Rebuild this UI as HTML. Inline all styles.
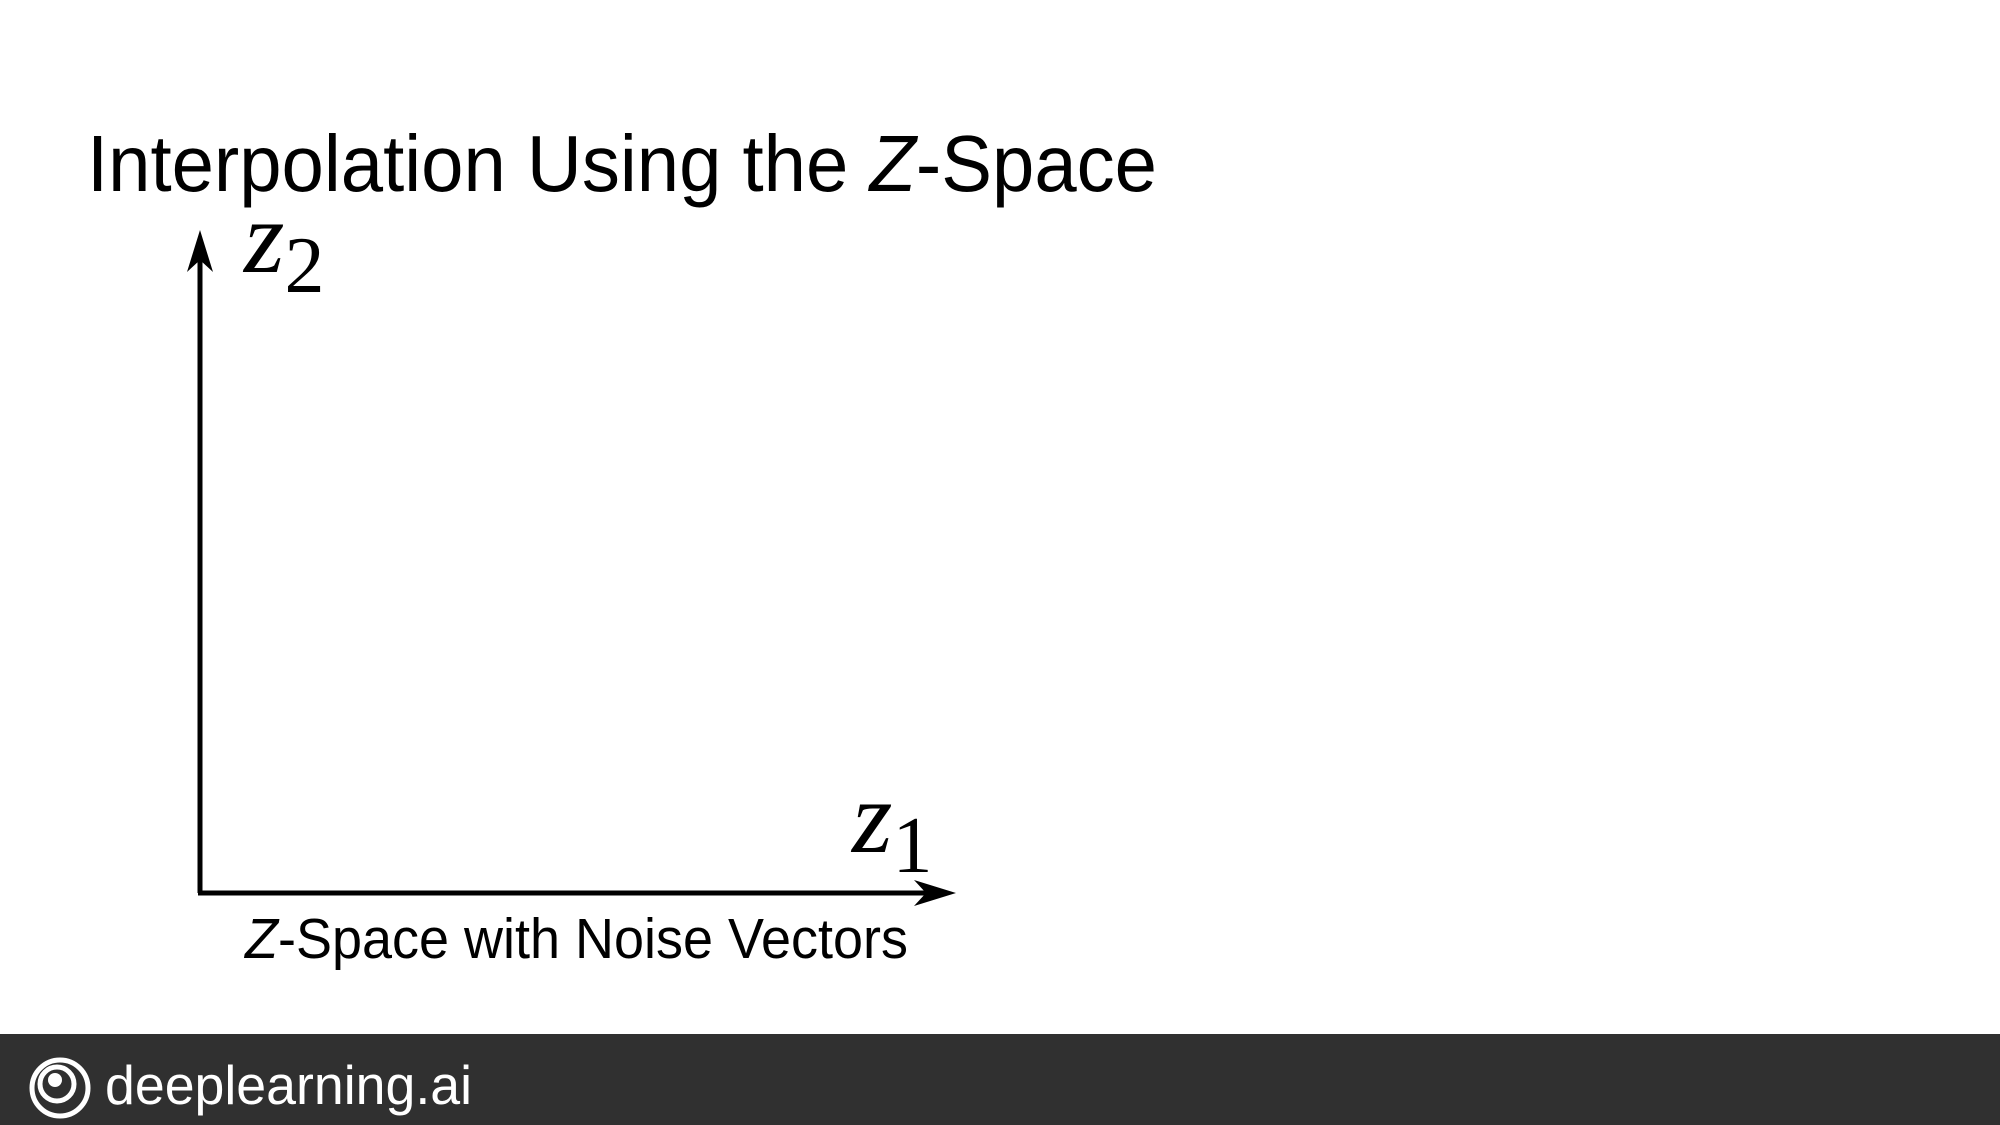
<!DOCTYPE html>
<html><head><meta charset="utf-8"><style>
html,body{margin:0;padding:0;background:#fff;width:2000px;height:1125px;overflow:hidden}
svg{display:block}
</style></head><body>
<svg width="2000" height="1125" viewBox="0 0 2000 1125">
  <text x="87" y="191" font-family="Liberation Sans, sans-serif" font-size="80" fill="#000" textLength="1070" lengthAdjust="spacingAndGlyphs">Interpolation Using the <tspan font-style="italic">Z</tspan>-Space</text>
  <g>
    <line x1="200" y1="893" x2="200" y2="240" stroke="#000" stroke-width="5"/>
    <path d="M200,230 L187,272 L200,260 L213,272 Z" fill="#000"/>
    <line x1="198" y1="893" x2="945" y2="893" stroke="#000" stroke-width="5"/>
    <path d="M956,893 L914,880 L926,893 L914,906 Z" fill="#000"/>
  </g>
  <text x="244" y="272" font-family="Liberation Serif, serif" font-size="104" font-style="italic">z<tspan font-style="normal" font-size="80" dy="20">2</tspan></text>
  <text x="852" y="852" font-family="Liberation Serif, serif" font-size="104" font-style="italic">z<tspan font-style="normal" font-size="80" dy="20">1</tspan></text>
  <text x="245" y="958" font-family="Liberation Sans, sans-serif" font-size="57" fill="#000" textLength="663" lengthAdjust="spacingAndGlyphs"><tspan font-style="italic">Z</tspan>-Space with Noise Vectors</text>
  <rect x="0" y="1034" width="2000" height="91" fill="#303030"/>
  <g fill="none" stroke="#fff">
    <circle cx="60" cy="1088" r="28" stroke-width="5"/>
    <circle cx="57" cy="1084" r="17" stroke-width="5"/>
    <circle cx="55" cy="1080" r="7" fill="#fff" stroke="none"/>
  </g>
  <text x="105" y="1104" font-family="Liberation Sans, sans-serif" font-size="55" fill="#fff" textLength="367" lengthAdjust="spacingAndGlyphs">deeplearning.ai</text>
</svg>
</body></html>
